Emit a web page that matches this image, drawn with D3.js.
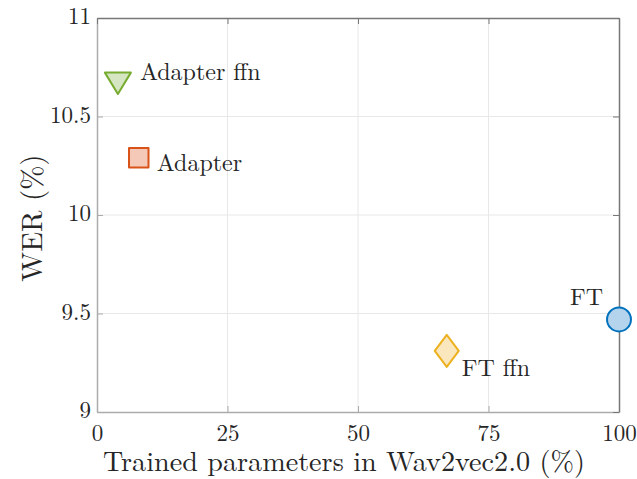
<!DOCTYPE html>
<html>
<head>
<meta charset="utf-8">
<script src="https://cdn.jsdelivr.net/npm/d3@7"></script>
<style>
  html, body { margin: 0; padding: 0; background: #fff; }
  svg { display: block; }
</style>
</head>
<body>
<svg id="chart" width="637" height="479"></svg>
<script>
// Methods compared: share of trained parameters vs. word error rate
const methods = ["FT", "Adapter", "FT ffn", "Adapter ffn"];
const trainedParams = [100, 8, 67, 4];
const werValues = [9.47, 10.29, 9.31, 10.67];
const markerShapes = ["circle", "square", "diamond", "triangleDown"];
const strokeColors = ["#0072BD", "#D95319", "#EDB120", "#77AC30"];
const fillColors = ["#b3d4ec", "#f5c9b8", "#fbe7bd", "#d6e6c2"];
const xTicks = [0, 25, 50, 75, 100];
const yTicks = [9, 9.5, 10, 10.5, 11];
const yTickLabels = ["9", "9.5", "10", "10.5", "11"];

const FONT = "'Latin Modern Roman', 'Liberation Serif', serif";
const TEXT_COLOR = "#262626";

const margin = { left: 97, right: 18, top: 18, bottom: 67 };
const W = 637, H = 479;
const svg = d3.select("#chart");

const x = d3.scaleLinear().domain([0, 100]).range([margin.left, W - margin.right]);
const y = d3.scaleLinear().domain([9, 11]).range([H - margin.bottom, margin.top]);

const x0 = x.range()[0], x1 = x.range()[1];
const y0 = y.range()[0], y1 = y.range()[1];

// grid
const grid = svg.append("g");
grid.selectAll("line.gx").data(xTicks.slice(1, -1)).join("line")
  .attr("x1", d => x(d)).attr("x2", d => x(d))
  .attr("y1", y1).attr("y2", y0)
  .attr("stroke", "#e8e8e8").attr("stroke-width", 1);
grid.selectAll("line.gy").data(yTicks.slice(1, -1)).join("line")
  .attr("x1", x0).attr("x2", x1)
  .attr("y1", d => y(d)).attr("y2", d => y(d))
  .attr("stroke", "#e8e8e8").attr("stroke-width", 1);

// axes with inward ticks
const xAxisBottom = d3.axisBottom(x).tickValues(xTicks).tickSizeInner(-6).tickSizeOuter(0);
const yAxisLeft = d3.axisLeft(y).tickValues(yTicks).tickFormat((d, i) => yTickLabels[i])
  .tickSizeInner(-6).tickSizeOuter(0);
const xAxisTop = d3.axisTop(x).tickValues(xTicks).tickSizeInner(-6).tickSizeOuter(0).tickFormat("");
const yAxisRight = d3.axisRight(y).tickValues(yTicks).tickSizeInner(-6).tickSizeOuter(0).tickFormat("");

function styleAxis(g, color) {
  g.attr("font-family", null).attr("font-size", null);
  g.select(".domain").attr("stroke", color).attr("stroke-width", 1.5);
  g.selectAll(".tick line").attr("stroke", color).attr("stroke-width", 1);
  g.selectAll(".tick text")
    .attr("fill", TEXT_COLOR)
    .attr("style", `font-family:${FONT};font-size:23px`);
}

const gxb = svg.append("g").attr("transform", `translate(0,${y0})`).call(xAxisBottom);
styleAxis(gxb, "#ababab");
gxb.selectAll(".tick text").attr("y", 29).attr("dy", null);

const gyl = svg.append("g").attr("transform", `translate(${x0},0)`).call(yAxisLeft);
styleAxis(gyl, "#ababab");
gyl.selectAll(".tick text").attr("x", -6).attr("y", 5.5).attr("dy", null);

const gxt = svg.append("g").attr("transform", `translate(0,${y1})`).call(xAxisTop);
styleAxis(gxt, "#777777");
const gyr = svg.append("g").attr("transform", `translate(${x1},0)`).call(yAxisRight);
styleAxis(gyr, "#777777");

// markers
function markerPath(shape) {
  if (shape === "triangleDown") {
    const r = 13;
    return `M${-r},${-r * 0.8}L${r},${-r * 0.8}L0,${r * 0.85}Z`;
  }
  if (shape === "diamond") return "M0,-16L12,0L0,16L-12,0Z";
  if (shape === "square") return d3.symbol(d3.symbolSquare, 380)();
  return d3.symbol(d3.symbolCircle, 450)();
}

const pts = methods.map((m, i) => ({
  name: m, px: trainedParams[i], wer: werValues[i],
  shape: markerShapes[i], stroke: strokeColors[i], fill: fillColors[i]
}));

svg.append("g").selectAll("path").data(pts).join("path")
  .attr("transform", d => `translate(${x(d.px)},${y(d.wer)})`)
  .attr("d", d => markerPath(d.shape))
  .attr("fill", d => d.fill)
  .attr("stroke", d => d.stroke)
  .attr("stroke-width", 2)
  .attr("stroke-linejoin", "round");

// point labels
const labelOffsets = {
  "FT": { dx: -16, dy: -14, anchor: "end" },
  "Adapter": { dx: 18, dy: 13, anchor: "start" },
  "FT ffn": { dx: 15, dy: 25, anchor: "start" },
  "Adapter ffn": { dx: 22, dy: -3, anchor: "start" },
};
svg.append("g").selectAll("text").data(pts).join("text")
  .attr("x", d => x(d.px) + labelOffsets[d.name].dx)
  .attr("y", d => y(d.wer) + labelOffsets[d.name].dy)
  .attr("text-anchor", d => labelOffsets[d.name].anchor)
  .attr("fill", TEXT_COLOR)
  .attr("style", `font-family:${FONT};font-size:24px`)
  .text(d => d.name);

// axis titles
svg.append("text")
  .attr("x", 103).attr("y", 471)
  .attr("fill", TEXT_COLOR)
  .attr("style", `font-family:${FONT};font-size:28.2px`)
  .text("Trained parameters in Wav2vec2.0 (%)");

svg.append("text")
  .attr("transform", `translate(41.5,${(y0 + y1) / 2 + 3}) rotate(-90)`)
  .attr("text-anchor", "middle")
  .attr("fill", TEXT_COLOR)
  .attr("style", `font-family:${FONT};font-size:29px`)
  .text("WER (%)");
</script>
</body>
</html>
